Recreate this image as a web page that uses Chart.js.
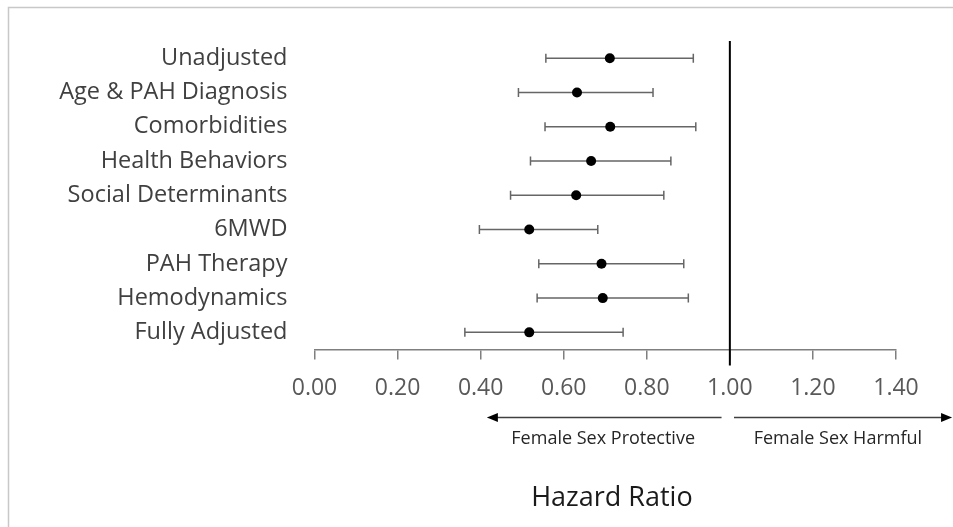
<!DOCTYPE html>
<html lang="en">
<head>
    <script src="https://cdn.jsdelivr.net/npm/chart.js"></script>
    <style>
        body { margin: 0; background: #fff; }
        #wrap { width: 953px; height: 527px; position: relative; }
    </style>
</head>
<body>
<div id="wrap">
    <canvas id="forestChart"></canvas>
</div>
<script>
    // models (rows, top to bottom)
    const models = ['Unadjusted', 'Age & PAH Diagnosis', 'Comorbidities', 'Health Behaviors',
        'Social Determinants', '6MWD', 'PAH Therapy', 'Hemodynamics', 'Fully Adjusted'];
    // hazard ratio and 95% CI
    const hazardRatio = [0.711, 0.632, 0.712, 0.666, 0.630, 0.517, 0.691, 0.694, 0.517];
    const ciLower = [0.557, 0.491, 0.555, 0.520, 0.472, 0.397, 0.540, 0.536, 0.362];
    const ciUpper = [0.912, 0.815, 0.918, 0.858, 0.841, 0.682, 0.889, 0.900, 0.743];
    const xTicks = [0, 0.2, 0.4, 0.6, 0.8, 1.0, 1.2, 1.4];
    const refValue = 1.0;

    const FONT = "'Open Sans', sans-serif";

    // frame, CI whiskers, reference line, arrows and captions
    const forestPlugin = {
        id: 'forestPlugin',
        beforeDraw(chart) {
            const c = chart.ctx;
            c.save();
            c.fillStyle = '#fff';
            c.fillRect(0, 0, chart.width, chart.height);
            c.strokeStyle = '#c8c8c8';
            c.lineWidth = 1.5;
            c.beginPath();
            c.moveTo(8.5, chart.height);
            c.lineTo(8.5, 7.5);
            c.lineTo(chart.width, 7.5);
            c.stroke();
            c.restore();
        },
        beforeDatasetsDraw(chart) {
            const c = chart.ctx;
            const xs = chart.scales.x, ys = chart.scales.y;
            const area = chart.chartArea;
            c.save();
            // whiskers
            c.strokeStyle = '#666';
            c.lineWidth = 1.5;
            models.forEach((m, i) => {
                const y = ys.getPixelForValue(i);
                const x1 = xs.getPixelForValue(ciLower[i]);
                const x2 = xs.getPixelForValue(ciUpper[i]);
                c.beginPath();
                c.moveTo(x1, y); c.lineTo(x2, y);
                c.moveTo(x1, y - 4.5); c.lineTo(x1, y + 4.5);
                c.moveTo(x2, y - 4.5); c.lineTo(x2, y + 4.5);
                c.stroke();
            });
            // reference line at HR = 1
            const xr = xs.getPixelForValue(refValue);
            c.strokeStyle = '#000';
            c.lineWidth = 2;
            c.beginPath();
            c.moveTo(xr, area.top);
            c.lineTo(xr, area.bottom + 16);
            c.stroke();
            c.restore();
        },
        afterDraw(chart) {
            const c = chart.ctx;
            const xs = chart.scales.x;
            const base = chart.chartArea.bottom;
            const ay = base + 68;
            c.save();
            c.strokeStyle = '#404040';
            c.fillStyle = '#000';
            c.lineWidth = 1.5;
            const arrow = (from, to) => {
                const dir = Math.sign(to - from);
                c.beginPath();
                c.moveTo(from, ay); c.lineTo(to - dir * 9, ay);
                c.stroke();
                c.beginPath();
                c.moveTo(to, ay);
                c.lineTo(to - dir * 11, ay - 4.5);
                c.lineTo(to - dir * 11, ay + 4.5);
                c.closePath();
                c.fill();
            };
            arrow(xs.getPixelForValue(0.98), xs.getPixelForValue(0.415));
            arrow(xs.getPixelForValue(1.01), xs.getPixelForValue(1.535));

            c.fillStyle = '#262626';
            c.textAlign = 'center';
            c.textBaseline = 'middle';
            c.font = "18px " + FONT;
            c.fillText('Female Sex Protective', xs.getPixelForValue(0.695), base + 89);
            c.fillText('Female Sex Harmful', xs.getPixelForValue(1.26), base + 89);
            c.fillStyle = '#1a1a1a';
            c.font = "27px " + FONT;
            c.fillText('Hazard Ratio', xs.getPixelForValue(0.716), base + 149);
            c.restore();
        }
    };

    const ctx = document.getElementById('forestChart');
    const forestChart = new Chart(ctx, {
        type: 'scatter',
        data: {
            datasets: [{
                label: 'Hazard Ratio',
                data: models.map((m, i) => ({x: hazardRatio[i], y: m})),
                pointRadius: 5,
                pointBackgroundColor: '#000',
                pointBorderColor: '#000',
                pointBorderWidth: 0
            }]
        },
        options: {
            responsive: true,
            maintainAspectRatio: false,
            animation: false,
            layout: { padding: { top: 37, right: 57, left: 0, bottom: 0 } },
            plugins: { legend: { display: false }, tooltip: { enabled: false } },
            scales: {
                x: {
                    type: 'linear',
                    min: 0,
                    max: 1.4,
                    afterBuildTicks: scale => { scale.ticks = xTicks.map(v => ({value: v})); },
                    afterFit: scale => { scale.height = 177.5; },
                    ticks: {
                        callback: v => Number(v).toFixed(2),
                        color: '#595959',
                        font: { family: FONT, size: 23 },
                        padding: 15,
                        maxRotation: 0
                    },
                    grid: { drawOnChartArea: false, drawTicks: true, tickLength: 10, color: '#7f7f7f', lineWidth: 1.5 },
                    border: { display: true, color: '#7f7f7f', width: 1.5 }
                },
                y: {
                    type: 'category',
                    labels: models,
                    offset: true,
                    afterFit: scale => { scale.width = 314.5; },
                    ticks: {
                        color: '#404040',
                        font: { family: FONT, size: 23.5 },
                        padding: 27
                    },
                    grid: { display: false, drawTicks: false },
                    border: { display: false }
                }
            }
        },
        plugins: [forestPlugin]
    });
</script>
</body>
</html>
